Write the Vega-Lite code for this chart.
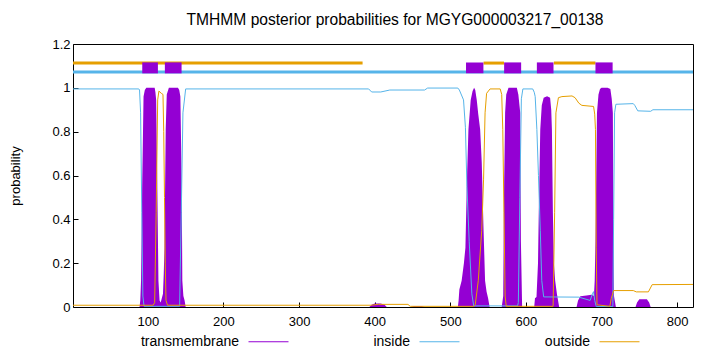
{
  "$schema": "https://vega.github.io/schema/vega-lite/v6.json",
  "autosize": {"type": "none"},
  "width": 620,
  "height": 263,
  "padding": {"left": 73, "top": 44, "right": 27, "bottom": 45},
  "background": "white",
  "config": {
    "view": {"stroke": "black", "strokeWidth": 1},
    "font": "Liberation Sans",
    "axis": {"grid": false, "domain": false, "tickColor": "black", "tickSize": -5, "labelFontSize": 13, "labelColor": "black", "titleFontSize": 13, "titleFontWeight": "normal", "titleColor": "black", "labelFont": "Liberation Sans", "titleFont": "Liberation Sans"},
    "legend": {"labelFont": "Liberation Sans", "labelFontSize": 14, "labelColor": "black"}
  },
  "title": {"text": "TMHMM posterior probabilities for MGYG000003217_00138", "fontSize": 15.6, "fontWeight": "normal", "font": "Liberation Sans", "color": "black", "anchor": "middle", "dx": 12, "offset": 9},
  "datasets": {
    "probs": [
      {"s": "inside", "x": 1, "p": 0.995}, {"s": "inside", "x": 88, "p": 0.995}, {"s": "inside", "x": 89, "p": 0.99}, {"s": "inside", "x": 90.4, "p": 0.886}, {"s": "inside", "x": 92, "p": 0.43}, {"s": "inside", "x": 93.4, "p": 0.05}, {"s": "inside", "x": 95, "p": 0.003}, {"s": "inside", "x": 142, "p": 0.003}, {"s": "inside", "x": 144.2, "p": 0.43}, {"s": "inside", "x": 146.4, "p": 0.886}, {"s": "inside", "x": 150, "p": 0.995}, {"s": "inside", "x": 392, "p": 0.995}, {"s": "inside", "x": 396, "p": 0.981}, {"s": "inside", "x": 408, "p": 0.981}, {"s": "inside", "x": 420, "p": 0.99}, {"s": "inside", "x": 466, "p": 0.99}, {"s": "inside", "x": 470, "p": 0.999}, {"s": "inside", "x": 510, "p": 0.999}, {"s": "inside", "x": 512, "p": 0.99}, {"s": "inside", "x": 517.5, "p": 0.945}, {"s": "inside", "x": 520, "p": 0.82}, {"s": "inside", "x": 522, "p": 0.55}, {"s": "inside", "x": 525, "p": 0.3}, {"s": "inside", "x": 528.5, "p": 0.06}, {"s": "inside", "x": 531, "p": 0.005}, {"s": "inside", "x": 589, "p": 0.005}, {"s": "inside", "x": 590, "p": 0.02}, {"s": "inside", "x": 592, "p": 0.5}, {"s": "inside", "x": 594, "p": 0.95}, {"s": "inside", "x": 596, "p": 0.995}, {"s": "inside", "x": 609, "p": 0.995}, {"s": "inside", "x": 611, "p": 0.98}, {"s": "inside", "x": 612.3, "p": 0.96}, {"s": "inside", "x": 614.5, "p": 0.81}, {"s": "inside", "x": 616.6, "p": 0.6}, {"s": "inside", "x": 619, "p": 0.35}, {"s": "inside", "x": 621, "p": 0.12}, {"s": "inside", "x": 623.5, "p": 0.046}, {"s": "inside", "x": 670, "p": 0.045}, {"s": "inside", "x": 685, "p": 0.03}, {"s": "inside", "x": 688, "p": 0.06}, {"s": "inside", "x": 689.5, "p": 0.07}, {"s": "inside", "x": 691, "p": 0.03}, {"s": "inside", "x": 693, "p": 0.002}, {"s": "inside", "x": 715, "p": 0.002}, {"s": "inside", "x": 716, "p": 0.4}, {"s": "inside", "x": 717.3, "p": 0.886}, {"s": "inside", "x": 719, "p": 0.925}, {"s": "inside", "x": 742, "p": 0.928}, {"s": "inside", "x": 744, "p": 0.92}, {"s": "inside", "x": 748, "p": 0.895}, {"s": "inside", "x": 765, "p": 0.893}, {"s": "inside", "x": 768, "p": 0.9}, {"s": "inside", "x": 821, "p": 0.9},
      {"s": "outside", "x": 1, "p": 0.008}, {"s": "outside", "x": 107, "p": 0.008}, {"s": "outside", "x": 109, "p": 0.02}, {"s": "outside", "x": 111, "p": 0.43}, {"s": "outside", "x": 113, "p": 0.945}, {"s": "outside", "x": 114.6, "p": 0.985}, {"s": "outside", "x": 117.8, "p": 0.975}, {"s": "outside", "x": 120, "p": 0.97}, {"s": "outside", "x": 121, "p": 0.8}, {"s": "outside", "x": 122, "p": 0.5}, {"s": "outside", "x": 123, "p": 0.2}, {"s": "outside", "x": 124, "p": 0.03}, {"s": "outside", "x": 126, "p": 0.008}, {"s": "outside", "x": 395, "p": 0.008}, {"s": "outside", "x": 405, "p": 0.012}, {"s": "outside", "x": 444, "p": 0.012}, {"s": "outside", "x": 447, "p": 0.003}, {"s": "outside", "x": 531, "p": 0.003}, {"s": "outside", "x": 533, "p": 0.01}, {"s": "outside", "x": 537, "p": 0.12}, {"s": "outside", "x": 541.6, "p": 0.35}, {"s": "outside", "x": 544, "p": 0.58}, {"s": "outside", "x": 546, "p": 0.886}, {"s": "outside", "x": 548, "p": 0.975}, {"s": "outside", "x": 552.6, "p": 0.995}, {"s": "outside", "x": 566, "p": 0.995}, {"s": "outside", "x": 568, "p": 0.97}, {"s": "outside", "x": 569.4, "p": 0.81}, {"s": "outside", "x": 571, "p": 0.43}, {"s": "outside", "x": 572.5, "p": 0.05}, {"s": "outside", "x": 574, "p": 0.003}, {"s": "outside", "x": 636, "p": 0.003}, {"s": "outside", "x": 638, "p": 0.43}, {"s": "outside", "x": 639.7, "p": 0.886}, {"s": "outside", "x": 643, "p": 0.955}, {"s": "outside", "x": 647.6, "p": 0.96}, {"s": "outside", "x": 661, "p": 0.963}, {"s": "outside", "x": 665, "p": 0.955}, {"s": "outside", "x": 670, "p": 0.93}, {"s": "outside", "x": 674, "p": 0.92}, {"s": "outside", "x": 689.5, "p": 0.915}, {"s": "outside", "x": 691, "p": 0.88}, {"s": "outside", "x": 692, "p": 0.81}, {"s": "outside", "x": 693, "p": 0.27}, {"s": "outside", "x": 694, "p": 0.01}, {"s": "outside", "x": 711, "p": 0.003}, {"s": "outside", "x": 713, "p": 0.04}, {"s": "outside", "x": 716, "p": 0.075}, {"s": "outside", "x": 742, "p": 0.075}, {"s": "outside", "x": 746, "p": 0.069}, {"s": "outside", "x": 762, "p": 0.069}, {"s": "outside", "x": 767, "p": 0.102}, {"s": "outside", "x": 821, "p": 0.103}
    ],
    "tm": [
      {"x": 1, "p": 0}, {"x": 89, "p": 0}, {"x": 90, "p": 0.03}, {"x": 91, "p": 0.12}, {"x": 92, "p": 0.4}, {"x": 92.6, "p": 0.58}, {"x": 94.3, "p": 0.96}, {"x": 96, "p": 0.99}, {"x": 98, "p": 1.0}, {"x": 109, "p": 1.0}, {"x": 110, "p": 0.98}, {"x": 111, "p": 0.945}, {"x": 112.4, "p": 0.58}, {"x": 114, "p": 0.12}, {"x": 115.5, "p": 0.03}, {"x": 117, "p": 0.02}, {"x": 120, "p": 0.06}, {"x": 121, "p": 0.15}, {"x": 122, "p": 0.27}, {"x": 123.6, "p": 0.81}, {"x": 125, "p": 0.97}, {"x": 127.8, "p": 1.0}, {"x": 139.8, "p": 1.0}, {"x": 141.5, "p": 0.99}, {"x": 143, "p": 0.96}, {"x": 144.7, "p": 0.58}, {"x": 145.6, "p": 0.12}, {"x": 147, "p": 0.05}, {"x": 148.6, "p": 0.03}, {"x": 150, "p": 0},
      {"x": 393, "p": 0}, {"x": 396, "p": 0.01}, {"x": 400, "p": 0.016}, {"x": 408, "p": 0.016}, {"x": 413, "p": 0.01}, {"x": 416, "p": 0}, {"x": 448, "p": 0}, {"x": 452, "p": 0.005}, {"x": 462, "p": 0.005}, {"x": 466, "p": 0},
      {"x": 510, "p": 0}, {"x": 511, "p": 0.03}, {"x": 512, "p": 0.08}, {"x": 515, "p": 0.12}, {"x": 518, "p": 0.2}, {"x": 520, "p": 0.27}, {"x": 522, "p": 0.58}, {"x": 524, "p": 0.81}, {"x": 527, "p": 0.945}, {"x": 529.5, "p": 0.985}, {"x": 531.5, "p": 1.0}, {"x": 533, "p": 0.99}, {"x": 535, "p": 0.945}, {"x": 537, "p": 0.88}, {"x": 539.5, "p": 0.81}, {"x": 541.6, "p": 0.66}, {"x": 544, "p": 0.35}, {"x": 546, "p": 0.12}, {"x": 548, "p": 0.07}, {"x": 550, "p": 0.04}, {"x": 552, "p": 0},
      {"x": 568, "p": 0}, {"x": 570, "p": 0.05}, {"x": 571, "p": 0.5}, {"x": 572.5, "p": 0.886}, {"x": 574, "p": 0.97}, {"x": 577, "p": 1.0}, {"x": 588, "p": 1.0}, {"x": 590, "p": 0.97}, {"x": 592.5, "p": 0.886}, {"x": 593.4, "p": 0.3}, {"x": 595, "p": 0},
      {"x": 611, "p": 0}, {"x": 612, "p": 0.04}, {"x": 614, "p": 0.046}, {"x": 616, "p": 0.2}, {"x": 617, "p": 0.43}, {"x": 619, "p": 0.81}, {"x": 621, "p": 0.92}, {"x": 623.5, "p": 0.955}, {"x": 628, "p": 0.962}, {"x": 632, "p": 0.955}, {"x": 633.5, "p": 0.9}, {"x": 634.4, "p": 0.81}, {"x": 635.7, "p": 0.43}, {"x": 637, "p": 0.2}, {"x": 638.7, "p": 0.12}, {"x": 641, "p": 0.06}, {"x": 644, "p": 0},
      {"x": 667, "p": 0}, {"x": 669, "p": 0.03}, {"x": 672, "p": 0.049}, {"x": 680, "p": 0.052}, {"x": 687, "p": 0.056}, {"x": 690, "p": 0.05}, {"x": 691, "p": 0.12}, {"x": 692, "p": 0.3}, {"x": 694, "p": 0.886}, {"x": 696, "p": 0.97}, {"x": 698, "p": 0.995}, {"x": 700, "p": 1.0}, {"x": 708, "p": 1.0}, {"x": 711.7, "p": 0.995}, {"x": 713.5, "p": 0.95}, {"x": 715, "p": 0.886}, {"x": 715.8, "p": 0.3}, {"x": 716.5, "p": 0.05}, {"x": 718, "p": 0.02}, {"x": 719, "p": 0},
      {"x": 745, "p": 0}, {"x": 747, "p": 0.02}, {"x": 750, "p": 0.035}, {"x": 760, "p": 0.035}, {"x": 763, "p": 0.02}, {"x": 765, "p": 0}, {"x": 821, "p": 0}
    ],
    "lines": [
      {"s": "outside", "x": 1, "x2": 384, "y": 1.113},
      {"s": "inside", "x": 1, "x2": 821, "y": 1.072},
      {"s": "outside", "x": 544, "x2": 571, "y": 1.113},
      {"s": "outside", "x": 637, "x2": 692, "y": 1.113}
    ],
    "boxes": [
      {"x": 92.6, "x2": 113.3, "y": 1.066, "y2": 1.116},
      {"x": 122.5, "x2": 144.6, "y": 1.066, "y2": 1.116},
      {"x": 520.8, "x2": 543.8, "y": 1.066, "y2": 1.116},
      {"x": 571.2, "x2": 593.7, "y": 1.066, "y2": 1.116},
      {"x": 614.5, "x2": 636.5, "y": 1.066, "y2": 1.116},
      {"x": 692, "x2": 714.7, "y": 1.066, "y2": 1.116}
    ]
  },
  "layer": [
    {
      "data": {"name": "tm"},
      "mark": {"type": "area", "color": "#9400d3", "interpolate": "linear", "clip": true},
      "encoding": {
        "x": {"field": "x", "type": "quantitative", "scale": {"domain": [1, 821], "nice": false, "zero": false}, "axis": {"values": [100, 200, 300, 400, 500, 600, 700, 800], "title": null, "labelPadding": 13, "tickSize": -5}},
        "y": {"field": "p", "type": "quantitative", "scale": {"domain": [0, 1.2], "nice": false}, "axis": {"values": [0, 0.2, 0.4, 0.6, 0.8, 1, 1.2], "format": ".1~f", "title": "probability", "titlePadding": 29, "labelPadding": 8, "tickSize": -5}}
      }
    },
    {
      "data": {"name": "probs"},
      "mark": {"type": "line", "strokeWidth": 1, "clip": true},
      "encoding": {
        "x": {"field": "x", "type": "quantitative"},
        "y": {"field": "p", "type": "quantitative"},
        "color": {"field": "s", "type": "nominal", "scale": {"domain": ["transmembrane", "inside", "outside"], "range": ["#9400d3", "#56b4e9", "#e69f00"]},
          "legend": {"title": null, "orient": "none", "legendX": 175, "legendY": 277, "direction": "horizontal", "symbolType": "stroke", "symbolSize": 1600, "symbolStrokeWidth": 1, "labelAlign": "right", "labelOffset": -50, "columnPadding": 82, "labelLimit": 200}},
        "order": {"field": "x", "type": "quantitative"}
      }
    },
    {
      "data": {"name": "lines"},
      "mark": {"type": "rule", "strokeWidth": 3},
      "encoding": {
        "x": {"field": "x", "type": "quantitative"},
        "x2": {"field": "x2"},
        "y": {"field": "y", "type": "quantitative"},
        "color": {"field": "s", "type": "nominal"}
      }
    },
    {
      "data": {"name": "boxes"},
      "mark": {"type": "rect", "color": "#9400d3"},
      "encoding": {
        "x": {"field": "x", "type": "quantitative"},
        "x2": {"field": "x2"},
        "y": {"field": "y", "type": "quantitative"},
        "y2": {"field": "y2"}
      }
    }
  ]
}
